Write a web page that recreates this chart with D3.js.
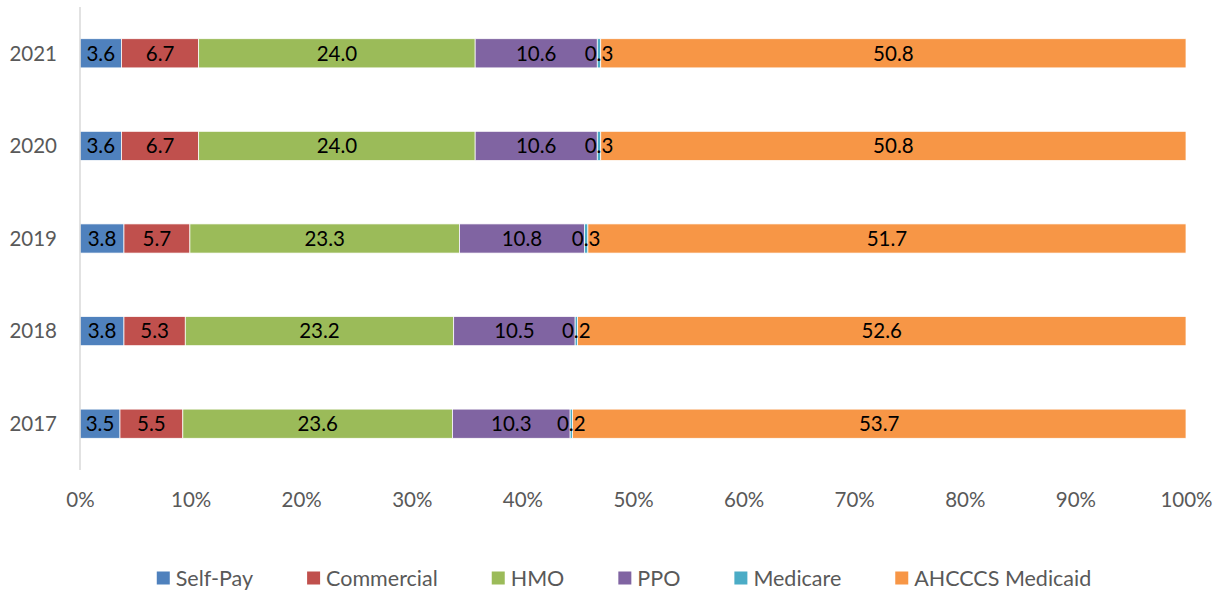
<!DOCTYPE html>
<html>
<head>
<meta charset="utf-8">
<script src="https://cdn.jsdelivr.net/npm/d3@7"></script>
<style>
  html, body { margin: 0; padding: 0; background: #fff; }
  svg { display: block; font-family: Lato, "Open Sans", sans-serif; }
</style>
</head>
<body>
<svg id="chart" width="1223" height="595"></svg>
<script>
// Payer mix by year (percent of patients)
const years = ["2021", "2020", "2019", "2018", "2017"];
const payers = ["Self-Pay", "Commercial", "HMO", "PPO", "Medicare", "AHCCCS Medicaid"];
const selfPay    = [3.6, 3.6, 3.8, 3.8, 3.5];
const commercial = [6.7, 6.7, 5.7, 5.3, 5.5];
const hmo        = [24.0, 24.0, 23.3, 23.2, 23.6];
const ppo        = [10.6, 10.6, 10.8, 10.5, 10.3];
const medicare   = [0.3, 0.3, 0.3, 0.2, 0.2];
const medicaid   = [50.8, 50.8, 51.7, 52.6, 53.7];
const xTicks = [0, 0.1, 0.2, 0.3, 0.4, 0.5, 0.6, 0.7, 0.8, 0.9, 1];
const colors = ["#4F81BD", "#C0504D", "#9BBB59", "#8064A2", "#4BACC6", "#F79646"];

const seriesValues = [selfPay, commercial, hmo, ppo, medicare, medicaid];
const rows = years.map((y, i) => {
  const r = { year: y };
  payers.forEach((p, j) => { r[p] = seriesValues[j][i]; });
  return r;
});

const svg = d3.select("#chart");
const plot = { left: 80, right: 1186, top: 7, bottom: 470 };

const x = d3.scaleLinear().domain([0, 1]).range([plot.left, plot.right]);
const y = d3.scaleBand().domain(years).range([plot.top, plot.bottom]).paddingInner(0.685).paddingOuter(0.3425);
const color = d3.scaleOrdinal().domain(payers).range(colors);

// 100% stacked layout
const stacked = d3.stack().keys(payers).offset(d3.stackOffsetExpand)(rows);
stacked.forEach(s => s.forEach(v => { v.key = s.key; }));
const segments = stacked.flat();

// Bars
svg.append("g").selectAll("rect").data(segments).join("rect")
  .attr("x", d => x(d[0]))
  .attr("y", d => y(d.data.year))
  .attr("width", d => x(d[1]) - x(d[0]))
  .attr("height", y.bandwidth())
  .attr("fill", d => color(d.key))
  .attr("stroke", "#fff")
  .attr("stroke-width", 0.75);

// Value labels centred in each segment, drawn above all bars
svg.append("g").selectAll("text").data(segments).join("text")
  .attr("x", d => (x(d[0]) + x(d[1])) / 2)
  .attr("y", d => y(d.data.year) + y.bandwidth() / 2)
  .attr("dy", "0.36em")
  .attr("text-anchor", "middle")
  .attr("fill", "#000")
  .attr("font-size", 20.5)
  .text(d => d.data[d.key].toFixed(1));

// Category axis line
svg.append("line")
  .attr("x1", plot.left).attr("x2", plot.left)
  .attr("y1", plot.top).attr("y2", plot.bottom)
  .attr("stroke", "#d9d9d9").attr("stroke-width", 1.5);

// Category labels
svg.append("g").selectAll("text").data(years).join("text")
  .attr("x", plot.left - 23)
  .attr("y", d => y(d) + y.bandwidth() / 2)
  .attr("dy", "0.36em")
  .attr("text-anchor", "end")
  .attr("fill", "#595959")
  .attr("font-size", 20.5)
  .text(d => d);

// Percentage axis (labels only)
const xAxis = svg.append("g")
  .attr("transform", `translate(0,${plot.bottom})`)
  .call(d3.axisBottom(x).tickValues(xTicks).tickFormat(d3.format(".0%")).tickSize(0).tickPadding(22));
xAxis.select(".domain").remove();
xAxis.selectAll("text")
  .attr("fill", "#595959")
  .attr("font-size", 20.5)
  .attr("font-family", "Lato, 'Open Sans', sans-serif");

// Legend
const legend = svg.append("g");
const items = legend.selectAll("g").data(payers).join("g");
items.append("rect")
  .attr("width", 13).attr("height", 13)
  .attr("y", -6.5)
  .attr("fill", d => color(d));
items.append("text")
  .attr("x", 19)
  .attr("dy", "0.36em")
  .attr("fill", "#595959")
  .attr("font-size", 21.5)
  .text(d => d);

let cursor = 0;
items.each(function () {
  const w = this.getBBox().width;
  this.__x = cursor;
  cursor += w + 54;
});
const total = cursor - 54;
const start = 624 - total / 2;
items.attr("transform", function () { return `translate(${start + this.__x},578)`; });
</script>
</body>
</html>
